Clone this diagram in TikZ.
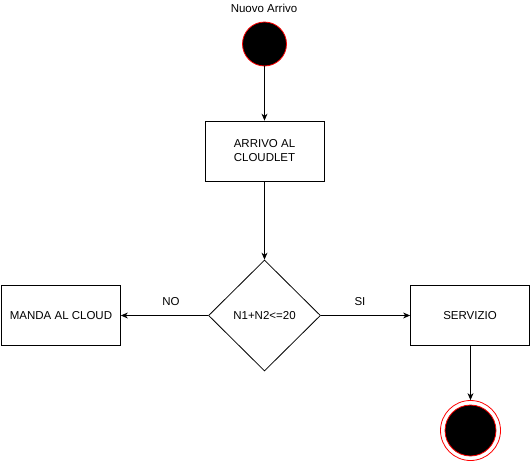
\documentclass[tikz,border=0pt]{standalone}
\usepackage{fontspec}
\setmainfont{Liberation Sans}
\usetikzlibrary{shapes.geometric,arrows.meta}
\begin{document}
\begin{tikzpicture}[x=1pt,y=-1pt,
  box/.style={draw,line width=0.8pt,minimum width=119pt,minimum height=60pt,inner sep=0pt,align=center,font=\fontsize{11.5}{14}\selectfont},
  dec/.style={draw,diamond,line width=0.8pt,minimum width=112pt,minimum height=111pt,aspect=1,inner sep=0pt,font=\fontsize{11.5}{14}\selectfont},
  lbl/.style={font=\fontsize{11.5}{14}\selectfont,inner sep=0pt},
  arr/.style={-{Stealth[length=7pt,width=6pt]},line width=0.8pt}]
\useasboundingbox (0,0) rectangle (531,461);
\node[lbl] (title) at (264,8) {Nuovo Arrivo};
\node[circle,fill=black,draw=red,line width=0.8pt,minimum size=44pt,inner sep=0pt] (start) at (264.5,44) {};
\node[box] (arrivo) at (264.5,151) {ARRIVO AL\\CLOUDLET};
\node[dec] (cond) at (264.5,315.5) {N1+N2<=20};
\node[box] (cloud) at (61,315.5) {MANDA AL CLOUD};
\node[box] (serv) at (470,315.5) {SERVIZIO};
\node[circle,draw=red,line width=0.8pt,minimum size=60pt,inner sep=0pt] (endo) at (470.5,430.5) {};
\node[circle,fill=black,draw=red,line width=0.8pt,minimum size=51pt,inner sep=0pt] (endi) at (470.5,430.5) {};
\draw[arr] (start) -- (arrivo);
\draw[arr] (arrivo) -- (cond.north);
\draw[arr] (cond.west) -- (cloud.east);
\draw[arr] (cond.east) -- (serv.west);
\draw[arr] (serv.south -| endo) -- (endo.north);
\node[lbl] (no) at (171,302) {NO};
\node[lbl] (si) at (360,302) {SI};
\end{tikzpicture}
\end{document}
